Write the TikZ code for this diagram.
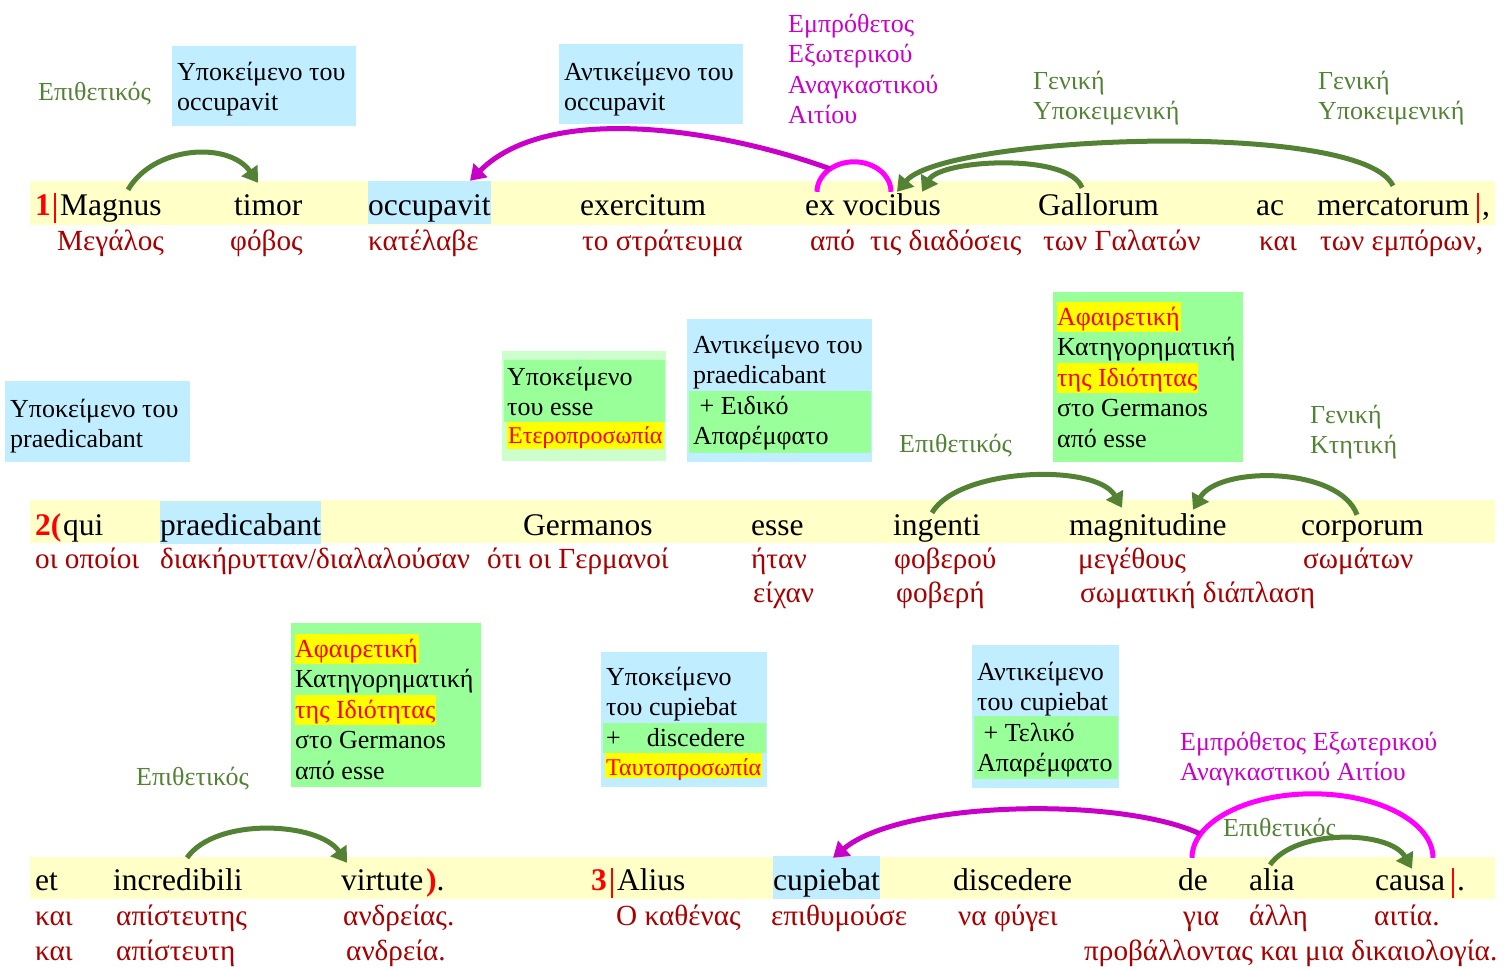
\documentclass[tikz,border=0pt]{standalone}
\usepackage{fontspec}
\setmainfont{Liberation Serif}
\usetikzlibrary{arrows.meta}

\definecolor{bandyellow}{RGB}{255,255,200}
\definecolor{boxblue}{RGB}{192,237,255}
\definecolor{boxgreen}{RGB}{153,255,153}
\definecolor{palegreen}{RGB}{204,255,204}
\definecolor{hlyellow}{RGB}{255,255,0}
\definecolor{glossred}{RGB}{168,0,0}
\definecolor{syngreen}{RGB}{84,130,53}
\definecolor{prepmag}{RGB}{200,0,200}
\definecolor{arcmag}{RGB}{255,0,255}

\newcommand\wordfont{\fontsize{31.5}{37}\selectfont}
\newcommand\glossfont{\fontsize{29.2}{34}\selectfont}
\newcommand\labfont{\fontsize{26}{30.5}\selectfont}
\newcommand\hlfont{\fontsize{24}{28}\selectfont}
\newcommand\topstrut{\rule{0pt}{21pt}}
\newcommand\sepbar{\textcolor{red}{\rule[-8pt]{2pt}{30pt}}}
\newcommand\hl[1]{{\setlength\fboxsep{0pt}\colorbox{hlyellow}{\rule[-7pt]{0pt}{30pt}\textcolor{red}{#1}\hspace{1pt}}}}

\tikzset{
  word/.style={font=\wordfont, inner sep=0pt, text height=34pt, text depth=9pt, anchor=base west},
  gloss/.style={font=\glossfont, text=glossred, inner sep=0pt, anchor=base west},
  lab/.style={font=\labfont, inner sep=0pt, align=left},
  labline/.style={lab, anchor=base west},
  labtop/.style={lab, anchor=north west},
  hlword/.style={font=\hlfont, text=red, fill=hlyellow, inner xsep=1pt, inner ysep=0pt, anchor=base west},
  panel/.style={anchor=north west, inner sep=0pt, outer sep=0pt},
  synarrow/.style={draw=syngreen, line width=5pt, -{Triangle[length=15pt,width=19pt]}},
  preparrow/.style={draw=prepmag, line width=5pt, -{Triangle[length=15pt,width=19pt]}},
  prepbrace/.style={draw=arcmag, line width=5pt}
}

\begin{document}
\begin{tikzpicture}[x=1pt,y=1pt]
\useasboundingbox (0,0) rectangle (1507,-969);

\fill[bandyellow] (30,-181) rectangle (1495,-225);
\fill[bandyellow] (30,-500) rectangle (1495,-543);
\fill[bandyellow] (30,-857) rectangle (1495,-899);

% sentence 1
\node[word,text=red] (mark1) at (35,-215) {\textbf{1}\hspace{3pt}\sepbar};
\node[word] (magnus) at (60,-215) {Magnus};
\node[word] (timor) at (234,-215) {timor};
\node[word,fill=boxblue] (occupavit) at (368,-215) {occupavit};
\node[word] (exercitum) at (580,-215) {exercitum};
\node[word] (exvoc) at (805,-215) {ex vocibus};
\node[word] (gallorum) at (1038,-215) {Gallorum};
\node[word] (ac) at (1256,-215) {ac};
\node[word] (mercatorum) at (1317,-215) {mercatorum};
\node[word] (end1) at (1475,-215) {\hspace{2pt}\sepbar\hspace{3pt},};

\node[gloss] (g1a) at (57,-250) {Μεγάλος};
\node[gloss] (g1b) at (230,-250) {φόβος};
\node[gloss] (g1c) at (368,-250) {κατέλαβε};
\node[gloss] (g1d) at (582,-250) {το στράτευμα};
\node[gloss] (g1e) at (810,-250) {από};
\node[gloss] (g1f) at (870,-250) {τις διαδόσεις};
\node[gloss] (g1g) at (1043,-250) {των Γαλατών};
\node[gloss] (g1h) at (1259,-250) {και};
\node[gloss] (g1i) at (1320,-250) {των εμπόρων,};

\node[labline,text=syngreen] (epith1) at (38,-100) {Επιθετικός};
\node[panel,fill=boxblue,minimum width=184pt,minimum height=80pt] (subjoccbox) at (172,-46) {};
\node[labtop] (subjocc) at (177,-59) {\topstrut Υποκείμενο του\\occupavit};
\node[panel,fill=boxblue,minimum width=184pt,minimum height=80pt] (objoccbox) at (559,-44) {};
\node[labtop] (objocc) at (564,-59) {\topstrut Αντικείμενο του\\occupavit};
\node[labtop,text=prepmag] (prep1) at (788,-11) {\topstrut Εμπρόθετος\\Εξωτερικού\\Αναγκαστικού\\Αιτίου};
\node[labtop,text=syngreen] (gen1) at (1033,-68) {\topstrut Γενική\\Υποκειμενική};
\node[labtop,text=syngreen] (gen2) at (1318,-68) {\topstrut Γενική\\Υποκειμενική};

% sentence 2
\node[word,text=red] (mark2) at (35,-535) {\textbf{2(}};
\node[word] (qui) at (63,-535) {qui};
\node[word,fill=boxblue] (praedicabant) at (160,-535) {praedicabant};
\node[word] (germanos) at (523,-535) {Germanos};
\node[word] (esse) at (751,-535) {esse};
\node[word] (ingenti) at (893,-535) {ingenti};
\node[word] (magnitudine) at (1069,-535) {magnitudine};
\node[word] (corporum) at (1301,-535) {corporum};

\node[gloss] (g2a) at (35,-568) {οι οποίοι};
\node[gloss] (g2b) at (160,-568) {διακήρυτταν/διαλαλούσαν};
\node[gloss] (g2c) at (487,-568) {ότι οι Γερμανοί};
\node[gloss] (g2d) at (751,-568) {ήταν};
\node[gloss] (g2e) at (753,-602) {είχαν};
\node[gloss] (g2f) at (894,-568) {φοβερού};
\node[gloss] (g2g) at (896,-602) {φοβερή};
\node[gloss] (g2h) at (1078,-568) {μεγέθους};
\node[gloss] (g2i) at (1080,-602) {σωματική διάπλαση};
\node[gloss] (g2j) at (1303,-568) {σωμάτων};

\node[panel,fill=boxblue,minimum width=185pt,minimum height=81pt] (subjpraedbox) at (5,-381) {};
\node[labtop] (subjpraed) at (10,-396) {\topstrut Υποκείμενο του\\praedicabant};
\node[panel,fill=palegreen,minimum width=164pt,minimum height=110pt] (subjessebox) at (502,-351) {};
\node[panel,fill=boxgreen,minimum width=161pt,minimum height=62pt] (subjesseinner) at (504,-360) {};
\node[labtop] (subjesse) at (507,-364) {\topstrut Υποκείμενο\\του esse};
\node[hlword,text height=21pt,text depth=6pt] (hetero) at (507,-443) {Ετεροπροσωπία};
\node[panel,fill=boxblue,minimum width=185pt,minimum height=143pt] (objpraedbox) at (687,-319) {};
\node[panel,fill=boxgreen,minimum width=182pt,minimum height=62pt] (objpraedinner) at (689,-391) {};
\node[labtop] (objpraed) at (693,-332) {\topstrut Αντικείμενο του\\praedicabant\\~+ Ειδικό\\Απαρέμφατο};
\node[labline,text=syngreen] (epith2) at (899,-452) {Επιθετικός};
\node[panel,fill=boxgreen,minimum width=190pt,minimum height=170pt] (ablbox1) at (1053,-292) {};
\node[labtop] (abl1) at (1057,-302) {\hl{Αφαιρετική}\\Κατηγορηματική\\\hl{της Ιδιότητας}\\στο Germanos\\από esse};
\node[labtop,text=syngreen] (gen3) at (1310,-402) {\topstrut Γενική\\Κτητική};

% sentence 3
\node[word] (et) at (35,-890) {et};
\node[word] (incredibili) at (113,-890) {incredibili};
\node[word] (virtute) at (341,-890) {virtute};
\node[word] (end2) at (426,-890) {\textcolor{red}{\textbf{)}}.};
\node[word,text=red] (mark3) at (591,-890) {\textbf{3}\hspace{4pt}\sepbar};
\node[word] (alius) at (617,-890) {Alius};
\node[word,fill=boxblue] (cupiebat) at (773,-890) {cupiebat};
\node[word] (discedere) at (953,-890) {discedere};
\node[word] (de) at (1178,-890) {de};
\node[word] (alia) at (1249,-890) {alia};
\node[word] (causa) at (1375,-890) {causa};
\node[word] (end3) at (1449,-890) {\hspace{3pt}\sepbar\hspace{3pt}.};

\node[gloss] (g3a) at (35,-925) {και};
\node[gloss] (g3b) at (35,-960) {και};
\node[gloss] (g3c) at (116,-925) {απίστευτης};
\node[gloss] (g3d) at (116,-960) {απίστευτη};
\node[gloss] (g3e) at (343,-925) {ανδρείας.};
\node[gloss] (g3f) at (346,-960) {ανδρεία.};
\node[gloss] (g3g) at (616,-925) {Ο καθένας};
\node[gloss] (g3h) at (771,-925) {επιθυμούσε};
\node[gloss] (g3i) at (958,-925) {να φύγει};
\node[gloss] (g3j) at (1183,-925) {για};
\node[gloss] (g3k) at (1249,-925) {άλλη};
\node[gloss] (g3l) at (1374,-925) {αιτία.};
\node[gloss] (g3m) at (1084,-960) {προβάλλοντας και μια δικαιολογία.};

\node[labline,text=syngreen] (epith3) at (136,-785) {Επιθετικός};
\node[panel,fill=boxgreen,minimum width=190pt,minimum height=164pt] (ablbox2) at (291,-623) {};
\node[labtop] (abl2) at (295,-634) {\hl{Αφαιρετική}\\Κατηγορηματική\\\hl{της Ιδιότητας}\\στο Germanos\\από esse};
\node[panel,fill=boxblue,minimum width=166pt,minimum height=135pt] (subjcupbox) at (601,-652) {};
\node[panel,fill=boxgreen,minimum width=163pt,minimum height=30pt] (subjcupinner) at (603,-723) {};
\node[labtop] (subjcup) at (606,-664) {\topstrut Υποκείμενο\\του cupiebat\\+\quad discedere};
\node[hlword,text height=22pt,text depth=3pt] (tauto) at (605,-775) {Ταυτοπροσωπία};
\node[panel,fill=boxblue,minimum width=147pt,minimum height=143pt] (objcupbox) at (972,-645) {};
\node[panel,fill=boxgreen,minimum width=144pt,minimum height=63pt] (objcupinner) at (974,-716) {};
\node[labtop] (objcup) at (977,-659) {\topstrut Αντικείμενο\\του cupiebat\\~+ Τελικό\\Απαρέμφατο};
\node[labtop,text=prepmag] (prep2) at (1180,-729) {\topstrut Εμπρόθετος Εξωτερικού\\Αναγκαστικού Αιτίου};
\node[labline,text=syngreen] (epith4) at (1223,-836) {Επιθετικός};

% connectors
\coordinate (vocbr) at ([xshift=12pt,yshift=-11pt]exvoc.north west);
\coordinate (vocbrtop) at ([xshift=25pt,yshift=12pt]exvoc.north west);
\coordinate (debr) at ([xshift=14pt,yshift=-2pt]de.north west);
\coordinate (debrtop) at ([xshift=22pt,yshift=22pt]de.north west);

\draw[synarrow] ([xshift=68pt,yshift=-9pt]magnus.north west) to[out=60,in=125] ([xshift=24pt,yshift=-2pt]timor.north west);
\draw[prepbrace] (vocbr) arc[start angle=180,end angle=0,x radius=37pt,y radius=30pt];
\draw[preparrow] (vocbrtop) to[out=160,in=45,looseness=0.8] ([xshift=102pt]occupavit.north west);
\draw[synarrow] ([xshift=44pt,yshift=-7pt]gallorum.north west) to[out=110,in=60,looseness=0.6] ([xshift=117pt,yshift=-11pt]exvoc.north west);
\draw[synarrow] ([xshift=76pt,yshift=-5pt]mercatorum.north west) to[out=115,in=50,looseness=0.38] ([xshift=92pt,yshift=-11pt]exvoc.north west);

\draw[synarrow] ([xshift=39pt,yshift=-12pt]ingenti.north west) to[out=60,in=120,looseness=0.7] ([xshift=53pt,yshift=-7pt]magnitudine.north west);
\draw[synarrow] ([xshift=56pt,yshift=-14pt]corporum.north west) to[out=110,in=60,looseness=0.8] ([xshift=124pt,yshift=-9pt]magnitudine.north west);

\draw[synarrow] ([xshift=74pt,yshift=-2pt]incredibili.north west) to[out=55,in=125,looseness=0.8] ([xshift=6pt,yshift=-7pt]virtute.north west);
\draw[prepbrace] (debr) arc[start angle=180,end angle=0,x radius=120.5pt,y radius=64pt];
\draw[preparrow] (debrtop) to[out=155,in=40,looseness=0.62] ([xshift=60pt,yshift=-2pt]cupiebat.north west);
\draw[synarrow] ([xshift=21pt,yshift=-9pt]alia.north west) to[out=55,in=120,looseness=0.8] ([xshift=37pt,yshift=-13pt]causa.north west);
\end{tikzpicture}
\end{document}
